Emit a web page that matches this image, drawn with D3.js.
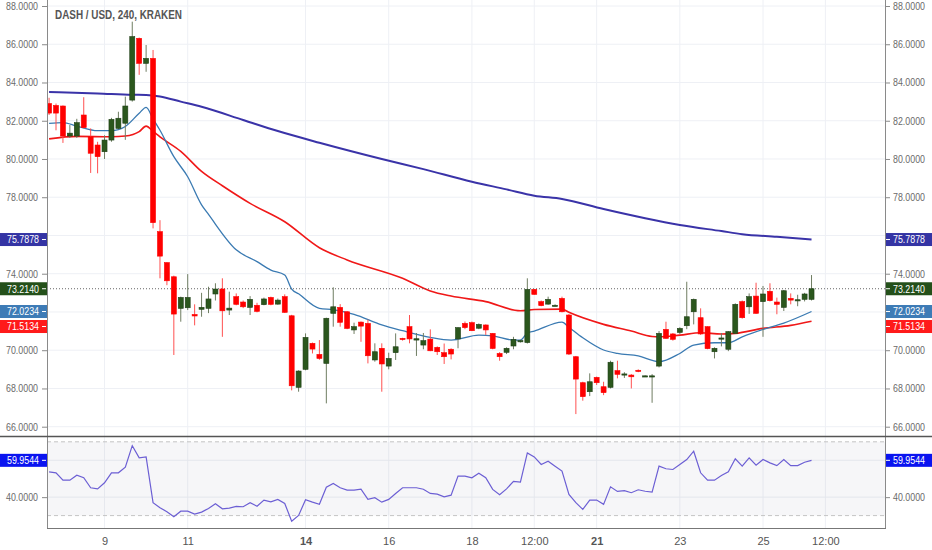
<!DOCTYPE html>
<html lang="en">
<head>
  <meta charset="UTF-8">
  <title>DASH / USD, 240, KRAKEN</title>
  <script src="https://d3js.org/d3.v7.min.js"></script>
  <style>
    body { margin: 0; background: #fff; }
    svg { display: block; font-family: "Liberation Sans", Arial, sans-serif; }
  </style>
</head>
<body>
  <div id="chart"></div>

  <script>
    // 4h candles, index 0 = first bar on the left
    const openPrices = [82.9,82.8,82.77,81.2,81.2,82.3,81.16,80.73,80.38,80.99,
      81.6,81.87,83.08,86.31,85.0,85.26,76.2,74.58,73.84,72.19,
      72.22,71.87,72.14,72.19,72.94,73.2,72.1,72.8,72.52,72.24,
      72.35,72.38,72.76,72.41,72.8,71.8,68.06,69.0,70.36,69.78,
      69.31,71.93,72.24,72.01,71.06,71.47,71.4,69.49,70.1,69.17,
      69.87,70.62,71.23,70.53,70.27,70.58,70.15,69.87,70.05,70.59,
      71.4,71.44,71.15,71.32,70.88,69.83,69.89,70.22,70.45,70.4,
      73.18,72.54,72.41,72.31,72.71,71.84,69.66,68.3,67.83,68.58,
      68.09,68.06,68.93,68.72,68.7,68.95,68.64,68.6,69.17,71.09,
      70.85,70.93,71.28,72.01,71.7,71.23,69.92,70.6,70.05,70.88,
      72.54,72.27,72.83,72.54,73.08,72.52,72.24,72.71,72.6,72.66,
      72.66];
    const highPrices = [83.2,82.9,82.8,81.78,82.1,83.23,81.6,80.9,81.24,82.15,
      82.47,83.26,87.18,86.35,85.96,85.7,76.8,74.6,73.9,72.8,
      73.98,72.4,73.0,73.32,73.5,73.76,73.06,72.97,72.6,72.83,
      72.48,72.75,72.8,72.7,72.92,71.85,68.95,70.88,70.4,70.53,
      71.7,73.29,72.41,72.05,71.44,71.5,71.6,70.36,70.36,69.87,
      70.88,70.65,71.84,70.9,70.9,71.09,70.2,70.35,70.1,71.2,
      71.5,71.5,71.4,71.35,70.9,69.9,70.15,70.7,70.55,73.76,
      73.2,72.6,72.8,72.4,72.8,71.9,69.7,68.35,68.79,68.62,
      68.35,69.45,69.45,68.85,68.75,69.0,68.68,68.75,71.0,71.49,
      70.9,71.2,73.58,72.7,72.19,71.25,70.15,70.9,71.0,72.45,
      72.6,72.97,73.53,73.36,73.5,72.75,73.15,72.97,72.9,73.0,
      73.93];
    const lowPrices = [82.3,81.5,80.84,81.1,81.1,81.6,79.27,79.25,80.0,80.9,
      81.55,81.0,83.0,84.4,84.56,76.37,73.76,73.4,69.75,71.49,
      72.1,71.3,71.75,71.94,72.6,70.7,71.84,72.35,72.2,71.84,
      71.98,72.35,72.35,72.38,71.95,67.9,67.83,68.95,69.83,69.5,
      67.22,71.23,71.23,71.1,70.85,70.44,69.31,69.4,67.83,69.0,
      69.49,70.5,70.36,69.7,70.05,69.95,69.75,69.28,69.52,70.1,
      71.1,71.0,71.1,70.8,70.05,69.45,69.8,70.05,70.4,70.35,
      72.9,72.3,72.38,72.3,71.98,69.75,66.66,67.36,67.6,68.18,
      67.65,68.0,68.53,68.55,68.0,68.85,68.62,67.25,69.1,70.6,
      70.5,70.85,71.1,71.35,70.8,70.05,69.57,70.2,69.95,70.85,
      71.65,71.9,71.9,70.7,72.55,71.88,72.05,72.4,72.3,72.55,
      72.6];
    const closePrices = [82.4,82.4,81.2,81.35,81.9,81.64,80.3,80.12,80.99,82.07,
      82.13,82.77,86.4,85.0,85.26,76.67,74.92,73.63,71.89,72.76,
      72.76,71.79,72.24,72.68,73.2,72.06,72.2,72.4,72.27,72.66,
      72.03,72.68,72.4,72.62,71.98,68.14,68.91,70.67,70.06,69.57,
      71.67,72.27,71.46,71.14,71.23,71.26,69.71,69.92,69.28,69.57,
      70.18,70.57,70.59,70.6,70.5,69.97,69.92,69.66,69.8,71.18,
      71.18,71.02,71.35,71.06,70.09,69.66,70.1,70.57,70.5,73.18,
      72.92,72.33,72.66,72.35,72.01,69.8,68.49,67.57,68.35,68.3,
      67.78,69.37,68.74,68.76,68.61,68.9,68.66,68.66,70.88,70.62,
      70.57,71.14,71.75,72.66,70.85,70.08,70.1,70.64,70.97,72.4,
      71.7,72.8,71.93,72.94,72.59,72.4,73.11,72.62,72.64,72.94,
      73.214];

    // RSI, one value per candle
    const rsiValues = [53.7,53.2,49.2,49.2,51.9,50.5,45.1,44.5,47.8,53.2,
      53.2,56.2,67.9,61.3,61.8,37.0,34.3,32.1,29.4,32.4,
      32.4,30.8,31.9,33.9,36.4,33.7,34.1,35.0,34.8,37.0,
      35.1,38.4,37.5,38.8,36.6,26.9,30.1,38.6,37.3,36.1,
      45.4,47.4,45.1,43.8,43.8,44.3,38.8,39.7,37.3,38.8,
      42.0,45.1,45.1,45.1,44.3,42.0,41.6,40.2,41.1,51.4,
      51.4,50.5,53.0,50.5,44.2,41.3,44.5,48.6,48.1,64.0,
      61.8,57.7,59.5,56.8,54.1,41.5,37.0,33.4,38.4,38.4,
      36.1,45.6,43.1,43.5,42.4,44.0,43.2,42.7,56.8,55.4,
      55.0,57.7,60.4,64.9,53.2,49.2,49.2,51.7,53.7,60.8,
      56.8,61.3,57.3,60.4,58.6,57.1,60.4,57.1,57.1,58.9,
      59.9544];

    // moving averages, read at candle indices
    const slowMaIdx = [0,7,12,14,16,19,22,28,33,39,48,54,61,66,70,74,80,86,91,97,100,105,110];
    const slowMaVal = [83.50,83.43,83.36,83.35,83.27,83.0,82.73,82.04,81.46,80.85,80.0,79.47,78.81,78.41,78.08,77.91,77.38,76.9,76.55,76.23,76.07,75.93,75.7878];
    const midMaIdx = [0,4,9,11,13,14,15,16,19,22,25,29,34,39,43,51,55,58,63,68,70,74,75,80,84,87,88,91,94,97,99,103,107,110];
    const midMaVal = [81.05,81.18,81.16,81.2,81.43,81.72,81.45,81.16,80.4,79.35,78.6,77.68,76.72,75.36,74.72,73.76,73.1,72.83,72.54,72.06,72.13,72.15,71.98,71.35,71.0,70.72,70.7,70.79,70.91,70.85,70.88,71.14,71.3,71.5134];
    const fastMaIdx = [0,2,4,7,9,11,13,14,15,16,18,20,22,23,27,30,32,34,35,36,39,41,44,48,51,55,58,62,64,67,68,69,70,74,75,77,80,82,85,88,91,93,96,98,100,104,106,110];
    const fastMaVal = [81.86,81.9,81.72,81.48,81.48,81.7,82.39,82.7,82.1,81.5,80.12,79.07,77.6,77.1,75.25,74.63,74.19,73.93,73.2,72.95,72.19,72.12,71.87,71.32,71.02,70.67,70.53,70.79,70.75,70.53,70.53,70.9,71.0,71.47,71.2,70.65,70.01,69.83,69.7,69.4,69.83,70.27,70.39,70.39,70.7,71.2,71.42,72.0234];

    // axis ticks
    const priceTicks = [66,68,70,72,74,76,78,80,82,84,86,88];
    const rsiTicks = [40];
    const timeTickIdx = [8,20,37,49,61,70,79,91,103,112];
    const timeTickLabels = ["9","11","14","16","18","12:00","21","23","25","12:00"];
    const boldTickLabels = ["14","21"];

    // last-value markers on the price scale
    const markerValues = [75.7878, 73.2140, 72.0234, 71.5134];
    const markerColors = ["#3434a4", "#24501a", "#3d7bb6", "#ff1a1a"];
    const rsiLast = 59.9544;

    const W = 932, H = 550;
    const left = 47, right = 885;
    const mainBottom = 436.5, rsiTop = 437, rsiBottom = 528.5;
    const labelLen = 32; // the source font is narrow

    const x = d3.scaleLinear().domain([-0.3, 120.6]).range([left, right]);
    const y = d3.scaleLinear().domain([66, 88]).range([426.7, 6]);
    const yR = d3.scaleLinear().domain([30, 70]).range([515.6, 441.8]);

    const svg = d3.select("#chart").append("svg")
      .attr("width", W).attr("height", H);

    const defs = svg.append("defs");
    defs.append("clipPath").attr("id", "clipMain").append("rect")
      .attr("x", left).attr("y", 0).attr("width", right - left).attr("height", mainBottom);
    defs.append("clipPath").attr("id", "clipRsi").append("rect")
      .attr("x", left).attr("y", rsiTop).attr("width", right - left).attr("height", rsiBottom - rsiTop);

    // marker positions, pushed apart when they collide (like the price scale does)
    const markers = markerValues.map((v, k) => ({ v, color: markerColors[k], yPos: y(v) }))
      .sort((a, b) => a.yPos - b.yPos);
    for (let k = 1; k < markers.length; k++) {
      if (markers[k].yPos < markers[k - 1].yPos + 15) markers[k].yPos = markers[k - 1].yPos + 15;
    }
    const freeTicks = priceTicks.filter(t => markers.every(m => Math.abs(y(t) - m.yPos) > 11));

    // grid
    const grid = svg.append("g").attr("stroke", "#eef0f5").attr("stroke-width", 1);
    grid.selectAll(".hg").data(priceTicks).join("line")
      .attr("x1", left).attr("x2", right)
      .attr("y1", d => y(d)).attr("y2", d => y(d));
    grid.selectAll(".vg").data(timeTickIdx).join("line")
      .attr("x1", d => x(d)).attr("x2", d => x(d))
      .attr("y1", 0).attr("y2", rsiBottom);

    // RSI band
    svg.append("rect")
      .attr("x", left).attr("width", right - left)
      .attr("y", yR(70)).attr("height", yR(30) - yR(70))
      .attr("fill", "#8890a0").attr("fill-opacity", 0.08);
    svg.append("g").selectAll("line").data([30, 70]).join("line")
      .attr("x1", left).attr("x2", right)
      .attr("y1", d => yR(d)).attr("y2", d => yR(d))
      .attr("stroke", "#c4c4c4").attr("stroke-dasharray", "4,3");
    svg.append("g").selectAll("line").data([40, 60]).join("line")
      .attr("x1", left).attr("x2", right)
      .attr("y1", d => yR(d)).attr("y2", d => yR(d))
      .attr("stroke", "#e4e6ec");

    // moving averages
    const maLine = d3.line().x(d => x(d[0])).y(d => y(d[1])).curve(d3.curveMonotoneX);
    const mainG = svg.append("g").attr("clip-path", "url(#clipMain)");
    mainG.append("path").datum(d3.zip(slowMaIdx, slowMaVal))
      .attr("d", maLine).attr("fill", "none").attr("stroke", "#3a33a8").attr("stroke-width", 2);
    mainG.append("path").datum(d3.zip(midMaIdx, midMaVal))
      .attr("d", maLine).attr("fill", "none").attr("stroke", "#f01818").attr("stroke-width", 1.6);
    mainG.append("path").datum(d3.zip(fastMaIdx, fastMaVal))
      .attr("d", maLine).attr("fill", "none").attr("stroke", "#3a7ab2").attr("stroke-width", 1.3);

    // last price dotted line
    const lastClose = closePrices[closePrices.length - 1];
    mainG.append("line")
      .attr("x1", left).attr("x2", right)
      .attr("y1", y(lastClose)).attr("y2", y(lastClose))
      .attr("stroke", "#666").attr("stroke-dasharray", "1,2");

    // candles
    const candles = d3.range(openPrices.length).map(i => ({
      i, o: openPrices[i], h: highPrices[i], l: lowPrices[i], c: closePrices[i]
    }));
    const up = d => d.c >= d.o;
    const bodyW = 5;

    mainG.append("g").selectAll("line").data(candles).join("line")
      .attr("x1", d => x(d.i)).attr("x2", d => x(d.i))
      .attr("y1", d => y(d.h)).attr("y2", d => y(d.l))
      .attr("stroke", d => up(d) ? "#6f7d62" : "#ff5050")
      .attr("stroke-width", 1);

    mainG.append("g").selectAll("rect").data(candles).join("rect")
      .attr("x", d => x(d.i) - bodyW / 2)
      .attr("width", bodyW)
      .attr("y", d => y(Math.max(d.o, d.c)))
      .attr("height", d => Math.max(1.2, Math.abs(y(d.o) - y(d.c))))
      .attr("fill", d => up(d) ? "#2b571d" : "#ff0000")
      .attr("stroke", d => up(d) ? "#1f3f16" : "#ff0000")
      .attr("stroke-width", 0.6);

    // RSI line
    const rsiLine = d3.line().x((d, i) => x(i)).y(d => yR(d));
    svg.append("g").attr("clip-path", "url(#clipRsi)")
      .append("path").datum(rsiValues)
      .attr("d", rsiLine).attr("fill", "none")
      .attr("stroke", "#6c5fd4").attr("stroke-width", 1.2);

    // frame
    const frame = svg.append("g").attr("stroke", "#8a8a8a").attr("stroke-width", 1);
    frame.append("line").attr("x1", left + 0.5).attr("x2", left + 0.5).attr("y1", 0).attr("y2", rsiBottom);
    frame.append("line").attr("x1", right + 0.5).attr("x2", right + 0.5).attr("y1", 0).attr("y2", rsiBottom);
    frame.append("line").attr("x1", left).attr("x2", right + 1).attr("y1", rsiBottom).attr("y2", rsiBottom)
      .attr("stroke", "#777");
    svg.append("line").attr("x1", 0).attr("x2", W).attr("y1", mainBottom).attr("y2", mainBottom)
      .attr("stroke", "#555").attr("stroke-width", 1.5);

    // axes
    const fmt = d3.format(".4f");
    function styleAxis(g) {
      g.select(".domain").remove();
      g.selectAll(".tick line").attr("stroke", "#8a8a8a");
      g.selectAll(".tick text").attr("fill", "#6a6a6a")
        .style("font-size", "10.5px")
        .attr("textLength", labelLen).attr("lengthAdjust", "spacingAndGlyphs");
    }
    svg.append("g").attr("transform", `translate(${left},0)`)
      .call(d3.axisLeft(y).tickValues(freeTicks).tickFormat(fmt).tickSize(5).tickPadding(4))
      .call(styleAxis);
    svg.append("g").attr("transform", `translate(${right},0)`)
      .call(d3.axisRight(y).tickValues(freeTicks).tickFormat(fmt).tickSize(5).tickPadding(3))
      .call(styleAxis);
    svg.append("g").attr("transform", `translate(${left},0)`)
      .call(d3.axisLeft(yR).tickValues(rsiTicks).tickFormat(fmt).tickSize(5).tickPadding(4))
      .call(styleAxis);
    svg.append("g").attr("transform", `translate(${right},0)`)
      .call(d3.axisRight(yR).tickValues(rsiTicks).tickFormat(fmt).tickSize(5).tickPadding(3))
      .call(styleAxis);

    const xAxis = svg.append("g").attr("transform", `translate(0,${rsiBottom})`)
      .call(d3.axisBottom(x).tickValues(timeTickIdx)
        .tickFormat((d, i) => timeTickLabels[i]).tickSize(0).tickPadding(9));
    xAxis.select(".domain").remove();
    xAxis.selectAll(".tick text")
      .attr("fill", "#555")
      .style("font-size", "11px")
      .style("font-weight", d => boldTickLabels.includes(timeTickLabels[timeTickIdx.indexOf(d)]) ? "bold" : "normal");

    // value markers on both price scales
    function marker(val, yPos, color) {
      const g = svg.append("g");
      [[0, left, left - 5], [right + 1, W - right - 1, right + 1]].forEach(([bx, bw, tx]) => {
        g.append("rect").attr("x", bx).attr("y", yPos - 6.5)
          .attr("width", bw).attr("height", 13).attr("fill", color);
        g.append("line").attr("x1", tx).attr("x2", tx + 4)
          .attr("y1", yPos).attr("y2", yPos).attr("stroke", "#fff");
      });
      [[left - 8, "end"], [right + 8, "start"]].forEach(([tx, anchor]) => {
        g.append("text").attr("x", tx).attr("y", yPos).attr("dy", "0.36em")
          .attr("text-anchor", anchor).attr("fill", "#fff").style("font-size", "10.5px")
          .attr("textLength", labelLen).attr("lengthAdjust", "spacingAndGlyphs")
          .text(fmt(val));
      });
    }
    markers.forEach(m => marker(m.v, m.yPos, m.color));
    marker(rsiLast, yR(rsiLast), "#0a14f0");

    // title
    svg.append("text").attr("x", 55).attr("y", 19)
      .attr("fill", "#555").style("font-size", "12.5px").style("font-weight", "bold")
      .attr("textLength", 127).attr("lengthAdjust", "spacingAndGlyphs")
      .text("DASH / USD, 240, KRAKEN");
  </script>
</body>
</html>
